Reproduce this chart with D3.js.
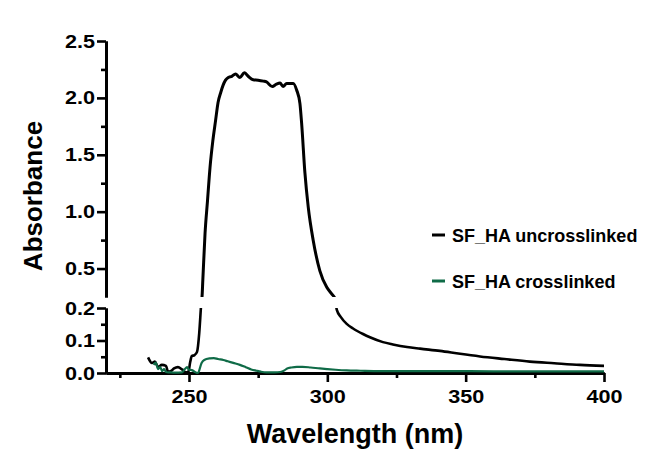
<!DOCTYPE html>
<html>
<head>
<meta charset="utf-8">
<script src="https://cdn.jsdelivr.net/npm/d3@7"></script>
<style>
  html, body { margin: 0; padding: 0; background: #fff; }
  svg { display: block; }
  text { font-family: "Liberation Sans", Arial, sans-serif; font-weight: bold; fill: #000; }
</style>
</head>
<body>
<svg id="chart" width="663" height="450"></svg>
<script>
// Absorbance spectra of SF_HA films
const uncrossNm = [235.2, 236.6, 237.7, 238.8, 240.2, 241.7, 242.4, 243.5, 244.6, 246.0, 247.5, 248.9, 249.8,
  250.4, 251.0, 252.0, 252.9, 253.7, 254.3, 254.7, 255.0, 255.8, 256.7, 257.6, 258.6, 259.6, 260.5, 261.5,
  262.3, 263.2, 264.2, 265.5, 266.8, 268.4, 270.0, 271.4, 273.2, 275.0, 276.9, 278.0, 280.1, 281.6, 282.9,
  284.0, 285.3, 287.7, 288.9, 290.1, 290.7, 291.9, 293.1, 294.9, 297.3, 299.8, 301.5, 302.8, 303.4, 304.9,
  307.0, 309.3, 312.9, 315.4, 320.1, 323.7, 328.8, 333.5, 340.7, 348.0, 355.2, 364.0, 373.2, 382.0, 391.3, 400.0];
const uncrossAbs = [0.048, 0.031, 0.035, 0.018, 0.025, 0.022, 0.004, 0.006, 0.014, 0.018, 0.011, 0.002, 0.004,
  0.032, 0.052, 0.055, 0.065, 0.123, 0.20, 0.25, 0.40, 0.81, 1.10, 1.39, 1.62, 1.80, 1.96, 2.05,
  2.11, 2.156, 2.18, 2.19, 2.21, 2.18, 2.22, 2.19, 2.16, 2.156, 2.147, 2.14, 2.10, 2.12, 2.13,
  2.10, 2.127, 2.127, 2.07, 1.95, 1.78, 1.34, 1.04, 0.747, 0.48, 0.335, 0.28, 0.236, 0.195, 0.172,
  0.151, 0.137, 0.120, 0.110, 0.095, 0.088, 0.080, 0.075, 0.068, 0.059, 0.051, 0.043, 0.035, 0.030, 0.025, 0.022];

const crossNm = [237.2, 238.0, 238.8, 239.6, 240.3, 241.0, 241.7, 243.0, 245.0, 247.5, 248.5, 249.3, 250.0,
  251.0, 252.0, 253.0, 253.4, 254.5, 255.5, 257.6, 259.0, 260.5, 262.4, 264.0, 266.0, 268.4, 270.5, 272.5,
  274.4, 276.0, 278.0, 281.0, 283.0, 284.5, 285.5, 287.0, 289.0, 291.0, 294.0, 297.3, 300.0, 303.0, 307.0,
  312.0, 319.0, 330.0, 345.0, 360.0, 380.0, 400.0];
const crossAbs = [0.025, 0.032, 0.012, 0.018, 0.006, 0.012, 0.003, 0.002, 0.001, 0.002, 0.012, 0.018, 0.010,
  0.009, 0.004, 0.000, 0.002, 0.030, 0.040, 0.045, 0.046, 0.043, 0.040, 0.036, 0.031, 0.025, 0.018, 0.011,
  0.007, 0.004, 0.002, 0.002, 0.003, 0.008, 0.014, 0.017, 0.019, 0.019, 0.017, 0.014, 0.012, 0.010, 0.008,
  0.007, 0.006, 0.006, 0.006, 0.005, 0.005, 0.005];

const seriesNames = ["SF_HA uncrosslinked", "SF_HA crosslinked"];
const seriesColors = ["#000000", "#0f6b47"];

const xMajor = [250, 300, 350, 400];
const xMinor = [225, 275, 325, 375];
const yUpperMajor = [0.5, 1.0, 1.5, 2.0, 2.5];
const yUpperMinor = [0.75, 1.25, 1.75, 2.25];
const yLowerMajor = [0.0, 0.1, 0.2];
const yLowerMinor = [0.05, 0.15];

const svg = d3.select("#chart");

const x = d3.scaleLinear().domain([220, 400]).range([106, 604]);
const yUp = d3.scaleLinear().domain([0.25, 2.5]).range([297, 41]);
const yLow = d3.scaleLinear().domain([0, 0.2]).range([373, 308]);

const fmt = d3.format(".1f");

function styleAxis(g) {
  g.select(".domain").attr("stroke", "#000").attr("stroke-width", 3);
  g.selectAll(".tick line").attr("stroke", "#000").attr("stroke-width", 2.6);
}

// one segment of the broken y axis
function drawY(scale, major, minor) {
  const gMin = svg.append("g").attr("transform", "translate(106,0)")
    .call(d3.axisLeft(scale).tickValues(minor).tickSize(5).tickSizeOuter(0).tickFormat(""));
  styleAxis(gMin);
  const gMaj = svg.append("g").attr("transform", "translate(106,0)")
    .call(d3.axisLeft(scale).tickValues(major).tickSize(9).tickSizeOuter(0).tickFormat(fmt));
  styleAxis(gMaj);
  gMaj.selectAll(".tick text")
    .attr("x", null).attr("dy", null)
    .attr("font-size", 18)
    .attr("text-anchor", "end")
    .attr("transform", "translate(-11,6) scale(1.2,1)");
}
drawY(yUp, yUpperMajor, yUpperMinor);
drawY(yLow, yLowerMajor, yLowerMinor);

// x axis
const gxMin = svg.append("g").attr("transform", "translate(0,373)")
  .call(d3.axisBottom(x).tickValues(xMinor).tickSize(5).tickSizeOuter(0).tickFormat(""));
styleAxis(gxMin);
const gxMaj = svg.append("g").attr("transform", "translate(0,373)")
  .call(d3.axisBottom(x).tickValues(xMajor).tickSize(9).tickSizeOuter(0).tickFormat(d3.format("d")));
styleAxis(gxMaj);
gxMaj.selectAll(".tick text")
  .attr("y", null).attr("dy", null)
  .attr("font-size", 18)
  .attr("text-anchor", "middle")
  .attr("transform", "translate(0,30) scale(1.2,1)");

// axis titles
svg.append("text")
  .attr("transform", "translate(42,196) rotate(-90)")
  .attr("text-anchor", "middle")
  .attr("font-size", 26)
  .text("Absorbance");
svg.append("text")
  .attr("x", 355).attr("y", 443)
  .attr("text-anchor", "middle")
  .attr("font-size", 27)
  .text("Wavelength (nm)");

// clipping for the two segments of the broken y axis
const defs = svg.append("defs");
defs.append("clipPath").attr("id", "clipUp")
  .append("rect").attr("x", 100).attr("y", 30).attr("width", 520).attr("height", 267);
defs.append("clipPath").attr("id", "clipLow")
  .append("rect").attr("x", 100).attr("y", 308).attr("width", 520).attr("height", 70);

const uncross = uncrossNm.map((d, i) => ({ nm: d, a: uncrossAbs[i] }));
const cross = crossNm.map((d, i) => ({ nm: d, a: crossAbs[i] }));

function lineFor(yScale) {
  return d3.line().x(d => x(d.nm)).y(d => yScale(d.a)).curve(d3.curveMonotoneX);
}

// uncrosslinked spectrum in both segments
svg.append("path").datum(uncross)
  .attr("clip-path", "url(#clipUp)")
  .attr("fill", "none").attr("stroke", seriesColors[0]).attr("stroke-width", 3)
  .attr("stroke-linejoin", "round")
  .attr("d", lineFor(yUp));
svg.append("path").datum(uncross)
  .attr("clip-path", "url(#clipLow)")
  .attr("fill", "none").attr("stroke", seriesColors[0]).attr("stroke-width", 2.6)
  .attr("stroke-linejoin", "round")
  .attr("d", lineFor(yLow));

// crosslinked spectrum (lower segment only)
svg.append("path").datum(cross)
  .attr("clip-path", "url(#clipLow)")
  .attr("fill", "none").attr("stroke", seriesColors[1]).attr("stroke-width", 2.2)
  .attr("stroke-linejoin", "round")
  .attr("d", lineFor(yLow));

// legend
const legendRows = [235, 281];
seriesNames.forEach((name, i) => {
  const g = svg.append("g").attr("transform", `translate(432,${legendRows[i]})`);
  g.append("line").attr("x1", 0).attr("x2", 13).attr("y1", 0).attr("y2", 0)
    .attr("stroke", seriesColors[i]).attr("stroke-width", 3);
  g.append("text").attr("x", 20).attr("y", 6.5).attr("font-size", 18).text(name);
});
</script>
</body>
</html>
